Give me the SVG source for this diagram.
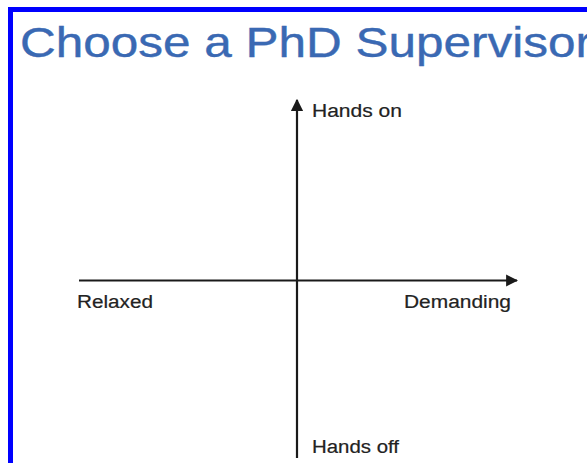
<svg xmlns="http://www.w3.org/2000/svg" width="587" height="463" viewBox="0 0 587 463">
  <style>
    .title { font-family: "Liberation Sans", Arial, sans-serif; font-size: 43px; fill: #3a69b3; stroke: #3a69b3; stroke-width: 0.4; }
    .lbl { font-family: "Liberation Sans", Arial, sans-serif; font-size: 18px; fill: #222222; stroke: #222222; stroke-width: 0.2; }
    .axis { stroke: #1a1a1a; stroke-width: 2.2; fill: none; }
  </style>
  <defs>
    <marker id="arr" viewBox="0 0 10 10" refX="9" refY="5" markerWidth="5.5" markerHeight="5.5" markerUnits="strokeWidth" orient="auto">
      <path d="M0,0 L10,5 L0,10 z" fill="#1a1a1a"/>
    </marker>
  </defs>
  <rect x="0" y="0" width="587" height="463" fill="#ffffff"/>
  <g id="border">
    <rect x="8" y="7" width="579" height="5" fill="#0000ff"/>
    <rect x="8" y="7" width="5" height="456" fill="#0000ff"/>
  </g>
  <g id="title">
    <text class="title" x="20" y="57" textLength="572" lengthAdjust="spacingAndGlyphs">Choose a PhD Supervisor</text>
  </g>
  <g id="connectors">
    <line class="axis" x1="297" y1="458" x2="297" y2="100" marker-end="url(#arr)"/>
    <line class="axis" x1="79" y1="280.5" x2="517" y2="280.5" marker-end="url(#arr)"/>
  </g>
  <g id="hands-on"><text class="lbl" x="312" y="117" textLength="90" lengthAdjust="spacingAndGlyphs">Hands on</text></g>
  <g id="relaxed"><text class="lbl" x="77" y="308" textLength="76" lengthAdjust="spacingAndGlyphs">Relaxed</text></g>
  <g id="demanding"><text class="lbl" x="404" y="308" textLength="107" lengthAdjust="spacingAndGlyphs">Demanding</text></g>
  <g id="hands-off"><text class="lbl" x="312" y="453" textLength="87" lengthAdjust="spacingAndGlyphs">Hands off</text></g>
</svg>
